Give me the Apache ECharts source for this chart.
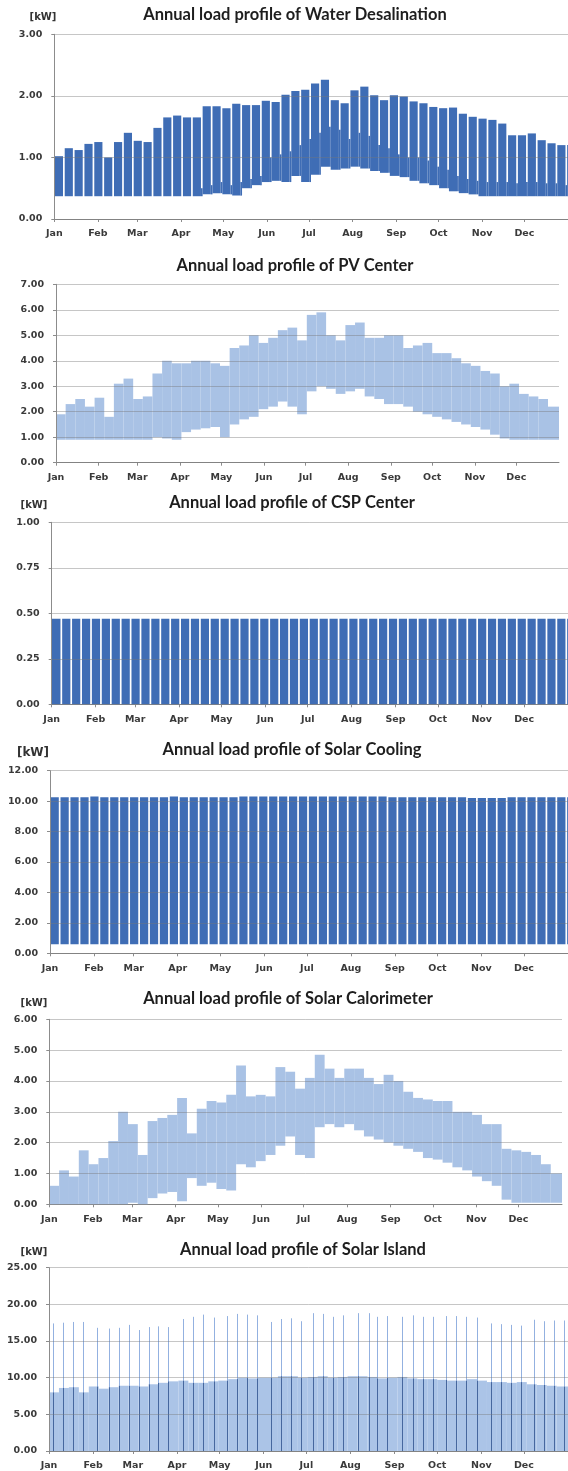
<!DOCTYPE html>
<html>
<head>
<meta charset="utf-8">
<script src="https://cdn.jsdelivr.net/npm/echarts@6/dist/echarts.min.js"></script>
<style>
  html, body { margin: 0; padding: 0; background: #ffffff; }
  #chart { width: 568px; height: 1471px; }
</style>
</head>
<body>
<div id="chart"></div>
<script>
// ---- calendar ----
const monthNames = ['Jan', 'Feb', 'Mar', 'Apr', 'May', 'Jun', 'Jul', 'Aug', 'Sep', 'Oct', 'Nov', 'Dec'];
const monthStartDays = [0, 31, 59, 90, 120, 151, 181, 212, 243, 273, 304, 334];
const DAYS_IN_YEAR = 365;

// ---- Water Desalination, weekly values [kW] ----
const desalPeak = [1.02, 1.15, 1.12, 1.22, 1.25, 1.00, 1.25, 1.40, 1.27, 1.25, 1.48, 1.65, 1.68,
  1.65, 1.65, 1.83, 1.83, 1.80, 1.87, 1.85, 1.85, 1.92, 1.90, 2.02, 2.08, 2.10,
  2.20, 2.26, 1.93, 1.88, 2.09, 2.15, 2.01, 1.93, 2.01, 1.99, 1.91, 1.88, 1.82,
  1.80, 1.81, 1.71, 1.66, 1.63, 1.61, 1.55, 1.36, 1.36, 1.39, 1.28, 1.23, 1.20];
const desalNight = [0.37, 0.37, 0.37, 0.37, 0.37, 0.37, 0.37, 0.37, 0.37, 0.37, 0.37, 0.37, 0.37,
  0.37, 0.37, 0.40, 0.42, 0.40, 0.38, 0.50, 0.55, 0.60, 0.62, 0.60, 0.70, 0.60,
  0.72, 0.85, 0.80, 0.82, 0.85, 0.82, 0.78, 0.75, 0.70, 0.68, 0.62, 0.58, 0.55,
  0.50, 0.45, 0.42, 0.40, 0.37, 0.37, 0.37, 0.37, 0.37, 0.37, 0.37, 0.37, 0.37];
const desalWeekend = [0.37, 0.37, 0.37, 0.37, 0.37, 0.37, 0.37, 0.37, 0.37, 0.37, 0.37, 0.37, 0.37,
  0.37, 0.50, 0.55, 0.60, 0.55, 0.60, 0.65, 0.70, 1.00, 1.05, 1.10, 1.20, 1.30,
  1.40, 1.50, 1.45, 1.30, 1.40, 1.35, 1.20, 1.15, 1.05, 1.00, 1.00, 0.95, 0.85,
  0.80, 0.70, 0.65, 0.62, 0.60, 0.60, 0.60, 0.58, 0.60, 0.60, 0.58, 0.58, 0.55];

// ---- PV Center, weekly envelope [kW] ----
const pvHigh = [1.90, 2.30, 2.50, 2.20, 2.55, 1.80, 3.10, 3.30, 2.50, 2.60, 3.50, 4.00, 3.90,
  3.90, 4.00, 4.00, 3.90, 3.80, 4.50, 4.60, 5.00, 4.70, 4.90, 5.20, 5.30, 4.80,
  5.80, 5.90, 5.00, 4.80, 5.40, 5.50, 4.90, 4.90, 5.00, 5.00, 4.50, 4.60, 4.70,
  4.30, 4.30, 4.10, 3.90, 3.80, 3.60, 3.50, 3.00, 3.10, 2.70, 2.60, 2.50, 2.20];
const pvLow = [0.90, 0.90, 0.90, 0.90, 0.90, 0.90, 0.90, 0.90, 0.90, 0.90, 1.00, 0.95, 0.90,
  1.20, 1.30, 1.35, 1.40, 1.00, 1.50, 1.70, 1.80, 2.10, 2.20, 2.40, 2.20, 1.90,
  2.80, 3.00, 2.90, 2.70, 2.80, 2.90, 2.60, 2.50, 2.30, 2.30, 2.20, 2.00, 1.90,
  1.80, 1.70, 1.60, 1.50, 1.40, 1.30, 1.10, 0.95, 0.90, 0.90, 0.90, 0.90, 0.90];

// ---- CSP Center, weekly working-day load [kW] ----
const cspLoad = [0.47, 0.47, 0.47, 0.47, 0.47, 0.47, 0.47, 0.47, 0.47, 0.47, 0.47, 0.47, 0.47,
  0.47, 0.47, 0.47, 0.47, 0.47, 0.47, 0.47, 0.47, 0.47, 0.47, 0.47, 0.47, 0.47,
  0.47, 0.47, 0.47, 0.47, 0.47, 0.47, 0.47, 0.47, 0.47, 0.47, 0.47, 0.47, 0.47,
  0.47, 0.47, 0.47, 0.47, 0.47, 0.47, 0.47, 0.47, 0.47, 0.47, 0.47, 0.47, 0.47];
const cspIdle = 0;

// ---- Solar Cooling, weekly working-day load [kW] ----
const coolingLoad = [10.25, 10.25, 10.25, 10.25, 10.30, 10.25, 10.25, 10.25, 10.25, 10.25, 10.25, 10.25, 10.30,
  10.25, 10.25, 10.25, 10.25, 10.25, 10.25, 10.30, 10.30, 10.30, 10.30, 10.30, 10.30, 10.30,
  10.30, 10.30, 10.30, 10.30, 10.30, 10.30, 10.30, 10.30, 10.25, 10.25, 10.25, 10.25, 10.25,
  10.25, 10.25, 10.25, 10.20, 10.20, 10.20, 10.20, 10.25, 10.25, 10.25, 10.25, 10.25, 10.25];
const coolingIdle = 0.60;

// ---- Solar Calorimeter, weekly envelope [kW] ----
const caloHigh = [0.60, 1.10, 0.90, 1.75, 1.30, 1.50, 2.05, 3.00, 2.60, 1.60, 2.70, 2.80, 2.90,
  3.45, 2.30, 3.10, 3.35, 3.30, 3.55, 4.50, 3.50, 3.55, 3.50, 4.45, 4.30, 3.75,
  4.10, 4.85, 4.40, 4.10, 4.40, 4.40, 4.10, 3.90, 4.20, 4.00, 3.65, 3.45, 3.40,
  3.35, 3.35, 3.00, 3.00, 2.90, 2.60, 2.60, 1.80, 1.75, 1.70, 1.60, 1.30, 1.00];
const caloLow = [0.00, 0.00, 0.00, 0.00, 0.00, 0.00, 0.00, 0.00, 0.05, 0.00, 0.20, 0.35, 0.40,
  0.10, 0.85, 0.60, 0.70, 0.50, 0.45, 1.30, 1.20, 1.40, 1.60, 1.90, 2.20, 1.60,
  1.50, 2.50, 2.60, 2.50, 2.60, 2.40, 2.20, 2.10, 2.00, 1.90, 1.80, 1.70, 1.50,
  1.45, 1.35, 1.20, 1.10, 0.90, 0.75, 0.60, 0.15, 0.05, 0.05, 0.05, 0.05, 0.05];

// ---- Solar Island, weekly base load and weekly peaks [kW] ----
const islandBase = [8.0, 8.6, 8.7, 8.0, 8.8, 8.5, 8.7, 8.9, 8.9, 8.8, 9.1, 9.3, 9.5,
  9.6, 9.3, 9.3, 9.5, 9.6, 9.8, 10.0, 9.9, 10.0, 10.0, 10.2, 10.2, 10.0,
  10.1, 10.2, 10.0, 10.1, 10.2, 10.2, 10.1, 9.9, 10.0, 10.1, 9.9, 9.8, 9.8,
  9.7, 9.6, 9.6, 9.8, 9.6, 9.4, 9.4, 9.3, 9.4, 9.1, 9.0, 8.9, 8.8];
const islandPeakDay = [3, 10, 17, 24, 34, 42, 49, 56, 63, 70, 77, 84, 94, 101, 108, 116,
  125, 132, 139, 146, 156, 163, 170, 177, 186, 193, 200, 207, 217, 225, 231, 238,
  248, 256, 263, 270, 279, 286, 293, 301, 311, 318, 325, 332, 341, 348, 355, 362];
const islandPeakKw = [17.4, 17.5, 17.6, 17.6, 16.8, 16.7, 16.8, 17.2, 16.5, 16.9, 17.0, 16.9, 18.0, 18.3, 18.6, 18.2,
  18.4, 18.7, 18.6, 18.5, 17.6, 18.0, 18.1, 17.7, 18.8, 18.7, 18.3, 18.5, 18.8, 18.8, 18.3, 18.4,
  18.3, 18.5, 18.3, 18.3, 18.4, 18.4, 18.3, 18.2, 17.4, 17.3, 17.2, 17.1, 17.9, 17.7, 17.8, 17.8];

// ---- drawing ----
const DARK_BLUE = '#3f6db5';
const LIGHT_BLUE = '#a9c2e5';
const TITLE_FONT = 'Lato, "Open Sans", sans-serif';
const LABEL_FONT = '"DejaVu Sans", Verdana, sans-serif';

// week layout: working days then a short rest period at the end of each week
const REST_START = 6.2, REST_END = 7.4;

const panels = [
  { title: 'Annual load profile of Water Desalination', titleX: 295, titleY: 15, unitX: 43, unitY: 17,
    top: 34.3, zero: 219, left: 54.3, right: 0, max: 3, interval: 1 },
  { title: 'Annual load profile of PV Center', titleX: 295, titleY: 266, unitX: null,
    top: 284.3, zero: 462.7, left: 56, right: 9, max: 7, interval: 1 },
  { title: 'Annual load profile of CSP Center', titleX: 292, titleY: 503, unitX: 34, unitY: 505,
    top: 522.3, zero: 704.3, left: 51.7, right: 0, max: 1, interval: 0.25 },
  { title: 'Annual load profile of Solar Cooling', titleX: 292, titleY: 750, unitX: 33, unitY: 753, unitSize: 12,
    top: 770.7, zero: 953.3, left: 50, right: 0, max: 12, interval: 2 },
  { title: 'Annual load profile of Solar Calorimeter', titleX: 288, titleY: 999, unitX: 34, unitY: 1003,
    top: 1019.3, zero: 1204.3, left: 49.3, right: 6, max: 6, interval: 1 },
  { title: 'Annual load profile of Solar Island', titleX: 303, titleY: 1250, unitX: 34, unitY: 1252,
    top: 1267.7, zero: 1451.7, left: 49, right: 0, max: 25, interval: 5 }
];

const H = 1471;
const titles = [];
const grids = [];
const xAxes = [];
const yAxes = [];

panels.forEach((p, i) => {
  titles.push({
    text: p.title, left: p.titleX, top: p.titleY - 10, textAlign: 'center', padding: 0,
    textStyle: { fontFamily: TITLE_FONT, fontSize: 16.5, fontWeight: 'bold', color: '#1e1e1e', lineHeight: 20 }
  });
  if (p.unitX !== null) {
    const sz = p.unitSize || 10;
    titles.push({
      text: '[kW]', left: p.unitX, top: p.unitY - sz / 2 - 1, textAlign: 'center', padding: 0,
      textStyle: { fontFamily: LABEL_FONT, fontSize: sz, fontWeight: 'bold', color: '#333333', lineHeight: sz + 2 }
    });
  }
  grids.push({ left: p.left, right: p.right, top: p.top, bottom: H - p.zero, containLabel: false });
  xAxes.push({
    type: 'value', gridIndex: i, min: 0, max: DAYS_IN_YEAR,
    axisLine: { show: true, lineStyle: { color: '#8c8c8c', width: 1 } },
    axisTick: { show: true, customValues: monthStartDays, length: 3, lineStyle: { color: '#8c8c8c' } },
    axisLabel: {
      customValues: monthStartDays, margin: 10,
      formatter: v => monthNames[monthStartDays.indexOf(v)] || '',
      fontFamily: LABEL_FONT, fontSize: 9.5, fontWeight: 'bold', color: '#3a3a3a'
    },
    splitLine: { show: false }
  });
  yAxes.push({
    type: 'value', gridIndex: i, min: 0, max: p.max, interval: p.interval, z: 5,
    axisLine: { show: true, lineStyle: { color: '#8c8c8c', width: 1 } },
    axisTick: { show: true, length: 3, lineStyle: { color: '#8c8c8c' } },
    axisLabel: {
      margin: 12, formatter: v => v.toFixed(2),
      fontFamily: LABEL_FONT, fontSize: 9.5, fontWeight: 'bold', color: '#3a3a3a'
    },
    splitLine: { show: true, lineStyle: { color: 'rgba(120,120,120,0.42)', width: 1 } }
  });
});

function box(api, d0, d1, v0, v1, style) {
  const a = api.coord([d0, v1]);
  const b = api.coord([d1, v0]);
  return { type: 'rect', shape: { x: a[0], y: a[1], width: b[0] - a[0], height: b[1] - a[1] }, style: style };
}

// weekly blocks: working days from low to high, rest period from low to restHigh
function workWeekSeries(i, low, high, restHigh, color) {
  const data = high.map((h, k) => [k, low[k], h, restHigh[k]]);
  return {
    type: 'custom', xAxisIndex: i, yAxisIndex: i, z: 2,
    renderItem(params, api) {
      const k = api.value(0), lo = api.value(1), hi = api.value(2), rest = api.value(3);
      const fill = { fill: color };
      const d0 = k === 0 ? 0 : 7 * k + REST_END - 7;
      const children = [box(api, d0, 7 * k + REST_START, lo, hi, fill)];
      if (rest > lo) children.push(box(api, 7 * k + REST_START, 7 * k + REST_END, lo, rest, fill));
      if (params.dataIndex === params.dataInsideLength - 1) {
        children.push(box(api, 7 * k + REST_END, DAYS_IN_YEAR, lo, hi, fill));
      }
      return { type: 'group', children };
    },
    data
  };
}

// weekly envelope bands (no rest period)
function envelopeSeries(i, low, high, fillColor) {
  const data = high.map((h, k) => [k, low[k], h]);
  return {
    type: 'custom', xAxisIndex: i, yAxisIndex: i, z: 2,
    renderItem(params, api) {
      const k = api.value(0), lo = api.value(1), hi = api.value(2);
      const d1 = params.dataIndex === params.dataInsideLength - 1 ? DAYS_IN_YEAR : 7 * k + 7;
      return box(api, 7 * k, d1, lo, hi, { fill: fillColor });
    },
    data
  };
}

// weekly peaks rising out of the base load
function peakSeries(i, days, peaks, base) {
  const data = days.map((d, j) => [d, base[Math.min(base.length - 1, Math.floor(d / 7))], peaks[j]]);
  return {
    type: 'custom', xAxisIndex: i, yAxisIndex: i, z: 3,
    renderItem(params, api) {
      const d = api.value(0), b = api.value(1), pk = api.value(2);
      const p0 = api.coord([d, 0]), p1 = api.coord([d, b]), p2 = api.coord([d, pk]);
      const x = Math.round(p0[0]) + 0.5;
      return {
        type: 'group', children: [
          { type: 'line', shape: { x1: x, y1: p1[1], x2: x, y2: p2[1] }, style: { stroke: '#93b1e0', lineWidth: 1 } },
          { type: 'line', shape: { x1: x, y1: p0[1], x2: x, y2: p1[1] }, style: { stroke: '#46679e', lineWidth: 1 } }
        ]
      };
    },
    data
  };
}

const cspIdleWeeks = cspLoad.map(() => cspIdle);
const coolingIdleWeeks = coolingLoad.map(() => coolingIdle);
const islandZero = islandBase.map(() => 0);

const series = [
  workWeekSeries(0, desalNight, desalPeak, desalWeekend, DARK_BLUE),
  envelopeSeries(1, pvLow, pvHigh, LIGHT_BLUE),
  workWeekSeries(2, cspIdleWeeks, cspLoad, cspIdleWeeks, DARK_BLUE),
  workWeekSeries(3, coolingIdleWeeks, coolingLoad, coolingIdleWeeks, DARK_BLUE),
  envelopeSeries(4, caloLow, caloHigh, LIGHT_BLUE),
  envelopeSeries(5, islandZero, islandBase, '#abc4e7'),
  peakSeries(5, islandPeakDay, islandPeakKw, islandBase)
];

const chart = echarts.init(document.getElementById('chart'), null, { renderer: 'canvas' });
chart.setOption({
  animation: false,
  backgroundColor: '#ffffff',
  title: titles,
  grid: grids,
  xAxis: xAxes,
  yAxis: yAxes,
  series
});
</script>
</body>
</html>
